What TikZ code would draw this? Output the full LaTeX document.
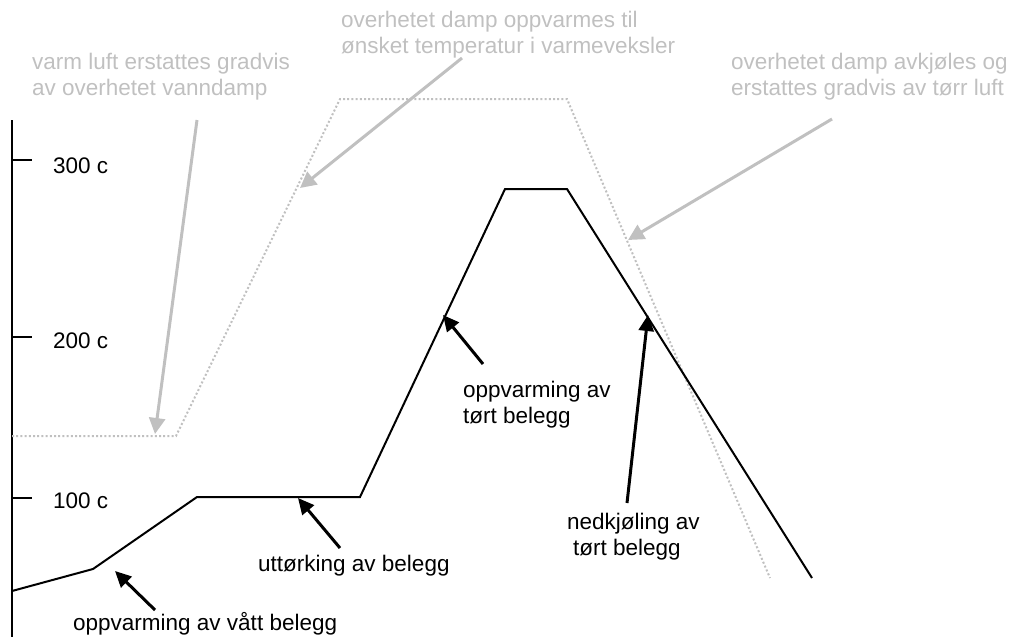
\documentclass[tikz,border=0pt]{standalone}
\usepackage{fontspec}
\setmainfont{Liberation Sans}
\usetikzlibrary{arrows.meta}
\definecolor{lgray}{RGB}{192,192,192}
\begin{document}
\begin{tikzpicture}[x=1pt,y=-1pt,
  lbl/.style={font=\fontsize{22.5}{26}\selectfont, inner sep=0pt, align=left, anchor=base west},
  glbl/.style={lbl, text=lgray},
  curve/.style={line width=2pt, line join=miter},
  dotcurve/.style={line width=2pt, lgray, dash pattern=on 2pt off 2.2pt},
  garrow/.style={line width=3pt, lgray, -{Triangle[length=16pt,width=16pt]}},
  barrow/.style={line width=3pt, black, -{Triangle[length=16pt,width=15pt]}},
  axisline/.style={line width=2pt},
]
\useasboundingbox (0,0) rectangle (1011,637);

% axis
\coordinate (axtop) at (12,120);
\coordinate (axbot) at (12,637);
\draw[axisline] (axtop) -- (axbot);
\coordinate (t3a) at (12,160); \coordinate (t3b) at (32,160);
\coordinate (t2a) at (12,337); \coordinate (t2b) at (32,337);
\coordinate (t1a) at (12,498); \coordinate (t1b) at (32,498);
\draw[axisline] (t3a) -- (t3b);
\draw[axisline] (t2a) -- (t2b);
\draw[axisline] (t1a) -- (t1b);
\node[lbl] (l300) at (53,173) {300 c};
\node[lbl] (l200) at (53,348) {200 c};
\node[lbl] (l100) at (53,508) {100 c};

% dotted (steam) curve
\coordinate (d0) at (12,436);
\coordinate (d1) at (176,436);
\coordinate (d2) at (340,99);
\coordinate (d3) at (567,99);
\coordinate (d4) at (770,578);
\draw[dotcurve] (d0) -- (d1) -- (d2) -- (d3) -- (d4);

% solid (coating) curve
\coordinate (s0) at (12,591);
\coordinate (s1) at (93,569);
\coordinate (s2) at (197,497);
\coordinate (s3) at (360,497);
\coordinate (s4) at (505,189);
\coordinate (s5) at (567,189);
\coordinate (s6) at (812,578);
\draw[curve] (s0) -- (s1) -- (s2) -- (s3) -- (s4) -- (s5) -- (s6);

% grey labels and arrows (base anchor = baseline of last line)
\node[glbl] (g1) at (32,95) {varm luft erstattes gradvis\\av overhetet vanndamp};
\node[glbl] (g2) at (341,53) {overhetet damp oppvarmes til\\ønsket temperatur i varmeveksler};
\node[glbl] (g3) at (731,95) {overhetet damp avkjøles og\\erstattes gradvis av tørr luft};
\coordinate (ga1s) at (197,120); \coordinate (ga1e) at (155,434);
\coordinate (ga2s) at (462,58);  \coordinate (ga2e) at (300,188);
\coordinate (ga3s) at (832,119); \coordinate (ga3e) at (628,240);
\draw[garrow] (ga1s) -- (ga1e);
\draw[garrow] (ga2s) -- (ga2e);
\draw[garrow] (ga3s) -- (ga3e);

% black labels and arrows
\node[lbl] (b1) at (73,630) {oppvarming av vått belegg};
\node[lbl] (b2) at (258,571) {uttørking av belegg};
\node[lbl] (b3) at (463,423) {oppvarming av\\tørt belegg};
\node[lbl] (b4) at (567,555) {nedkjøling av\\\hspace*{6pt}tørt belegg};
\coordinate (ba1s) at (155,610); \coordinate (ba1e) at (115,571);
\coordinate (ba2s) at (340,548); \coordinate (ba2e) at (298,498);
\coordinate (ba3s) at (483,364); \coordinate (ba3e) at (443,315);
\coordinate (ba4s) at (627,503); \coordinate (ba4e) at (648,315);
\draw[barrow] (ba1s) -- (ba1e);
\draw[barrow] (ba2s) -- (ba2e);
\draw[barrow] (ba3s) -- (ba3e);
\draw[barrow] (ba4s) -- (ba4e);
\end{tikzpicture}
\end{document}
